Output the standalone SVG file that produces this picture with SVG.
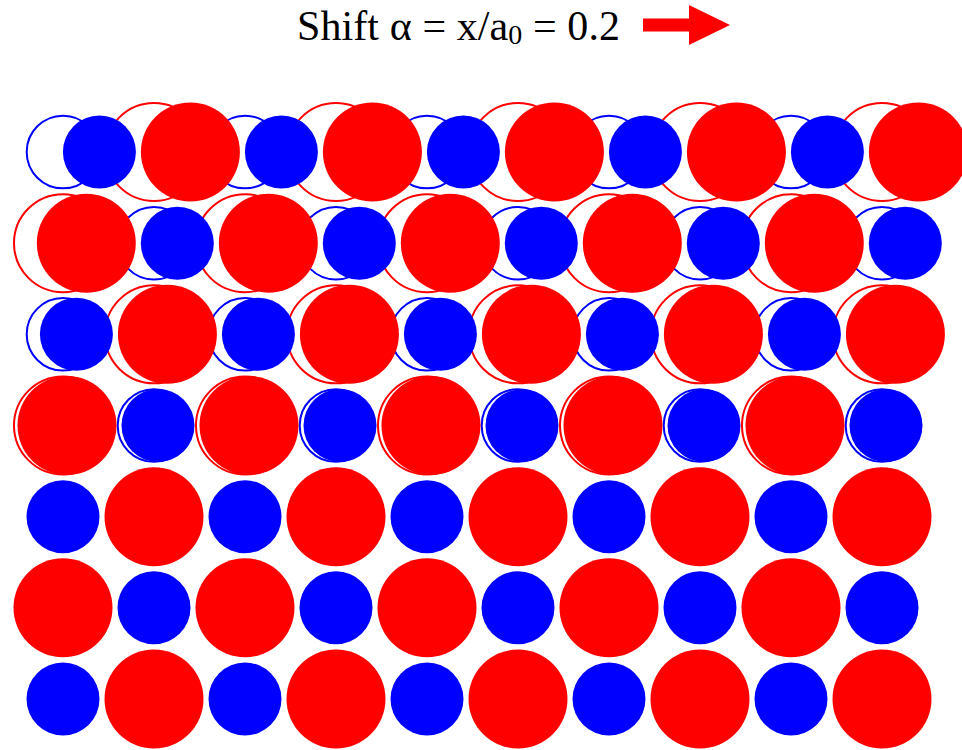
<svg xmlns="http://www.w3.org/2000/svg" width="962" height="750" viewBox="0 0 962 750">
<style>
.title{font-family:"Liberation Serif","Times New Roman",serif;font-size:42px;fill:#000}
.rf{fill:#ff0000}
.bf{fill:#0000ff}
.ro{fill:none;stroke:#ff0000;stroke-width:2}
.bo{fill:none;stroke:#0000ff;stroke-width:2}
</style>
<rect x="0" y="0" width="962" height="750" fill="#ffffff"/>
<g id="title">
<text class="title" x="297" y="40" textLength="323" lengthAdjust="spacing">Shift α = x/a<tspan font-size="28" dy="4">0</tspan><tspan dy="-4"> = 0.2</tspan></text>
<polygon points="643,18.5 689,18.5 689,5 730,25 689,45 689,31.5 643,31.5" fill="#ff0000"/>
</g>
<g id="original-positions">
<circle class="bo" cx="63" cy="152" r="36.3"/><circle class="ro" cx="154" cy="152" r="49"/><circle class="bo" cx="245" cy="152" r="36.3"/><circle class="ro" cx="336" cy="152" r="49"/><circle class="bo" cx="427" cy="152" r="36.3"/><circle class="ro" cx="518" cy="152" r="49"/><circle class="bo" cx="609" cy="152" r="36.3"/><circle class="ro" cx="700" cy="152" r="49"/><circle class="bo" cx="791" cy="152" r="36.3"/><circle class="ro" cx="882" cy="152" r="49"/>
<circle class="ro" cx="63" cy="243.2" r="49"/><circle class="bo" cx="154" cy="243.2" r="36.3"/><circle class="ro" cx="245" cy="243.2" r="49"/><circle class="bo" cx="336" cy="243.2" r="36.3"/><circle class="ro" cx="427" cy="243.2" r="49"/><circle class="bo" cx="518" cy="243.2" r="36.3"/><circle class="ro" cx="609" cy="243.2" r="49"/><circle class="bo" cx="700" cy="243.2" r="36.3"/><circle class="ro" cx="791" cy="243.2" r="49"/><circle class="bo" cx="882" cy="243.2" r="36.3"/>
<circle class="bo" cx="63" cy="334.3" r="36.3"/><circle class="ro" cx="154" cy="334.3" r="49"/><circle class="bo" cx="245" cy="334.3" r="36.3"/><circle class="ro" cx="336" cy="334.3" r="49"/><circle class="bo" cx="427" cy="334.3" r="36.3"/><circle class="ro" cx="518" cy="334.3" r="49"/><circle class="bo" cx="609" cy="334.3" r="36.3"/><circle class="ro" cx="700" cy="334.3" r="49"/><circle class="bo" cx="791" cy="334.3" r="36.3"/><circle class="ro" cx="882" cy="334.3" r="49"/>
<circle class="ro" cx="63" cy="425.5" r="49"/><circle class="bo" cx="154" cy="425.5" r="36.3"/><circle class="ro" cx="245" cy="425.5" r="49"/><circle class="bo" cx="336" cy="425.5" r="36.3"/><circle class="ro" cx="427" cy="425.5" r="49"/><circle class="bo" cx="518" cy="425.5" r="36.3"/><circle class="ro" cx="609" cy="425.5" r="49"/><circle class="bo" cx="700" cy="425.5" r="36.3"/><circle class="ro" cx="791" cy="425.5" r="49"/><circle class="bo" cx="882" cy="425.5" r="36.3"/>
</g>
<g id="ions">
<g id="row1">
<circle class="bf" cx="99.4" cy="152" r="36.5"/><circle class="rf" cx="190.4" cy="152" r="49.5"/><circle class="bf" cx="281.4" cy="152" r="36.5"/><circle class="rf" cx="372.4" cy="152" r="49.5"/><circle class="bf" cx="463.4" cy="152" r="36.5"/><circle class="rf" cx="554.4" cy="152" r="49.5"/><circle class="bf" cx="645.4" cy="152" r="36.5"/><circle class="rf" cx="736.4" cy="152" r="49.5"/><circle class="bf" cx="827.4" cy="152" r="36.5"/><circle class="rf" cx="918.4" cy="152" r="49.5"/>
</g>
<g id="row2">
<circle class="rf" cx="86.3" cy="243.2" r="49.5"/><circle class="bf" cx="177.3" cy="243.2" r="36.5"/><circle class="rf" cx="268.3" cy="243.2" r="49.5"/><circle class="bf" cx="359.3" cy="243.2" r="36.5"/><circle class="rf" cx="450.3" cy="243.2" r="49.5"/><circle class="bf" cx="541.3" cy="243.2" r="36.5"/><circle class="rf" cx="632.3" cy="243.2" r="49.5"/><circle class="bf" cx="723.3" cy="243.2" r="36.5"/><circle class="rf" cx="814.3" cy="243.2" r="49.5"/><circle class="bf" cx="905.3" cy="243.2" r="36.5"/>
</g>
<g id="row3">
<circle class="bf" cx="76.4" cy="334.3" r="36.5"/><circle class="rf" cx="167.4" cy="334.3" r="49.5"/><circle class="bf" cx="258.4" cy="334.3" r="36.5"/><circle class="rf" cx="349.4" cy="334.3" r="49.5"/><circle class="bf" cx="440.4" cy="334.3" r="36.5"/><circle class="rf" cx="531.4" cy="334.3" r="49.5"/><circle class="bf" cx="622.4" cy="334.3" r="36.5"/><circle class="rf" cx="713.4" cy="334.3" r="49.5"/><circle class="bf" cx="804.4" cy="334.3" r="36.5"/><circle class="rf" cx="895.4" cy="334.3" r="49.5"/>
</g>
<g id="row4">
<circle class="rf" cx="67" cy="425.5" r="49.5"/><circle class="bf" cx="158" cy="425.5" r="36.5"/><circle class="rf" cx="249" cy="425.5" r="49.5"/><circle class="bf" cx="340" cy="425.5" r="36.5"/><circle class="rf" cx="431" cy="425.5" r="49.5"/><circle class="bf" cx="522" cy="425.5" r="36.5"/><circle class="rf" cx="613" cy="425.5" r="49.5"/><circle class="bf" cx="704" cy="425.5" r="36.5"/><circle class="rf" cx="795" cy="425.5" r="49.5"/><circle class="bf" cx="886" cy="425.5" r="36.5"/>
</g>
<g id="row5">
<circle class="bf" cx="63" cy="516.7" r="36.5"/><circle class="rf" cx="154" cy="516.7" r="49.5"/><circle class="bf" cx="245" cy="516.7" r="36.5"/><circle class="rf" cx="336" cy="516.7" r="49.5"/><circle class="bf" cx="427" cy="516.7" r="36.5"/><circle class="rf" cx="518" cy="516.7" r="49.5"/><circle class="bf" cx="609" cy="516.7" r="36.5"/><circle class="rf" cx="700" cy="516.7" r="49.5"/><circle class="bf" cx="791" cy="516.7" r="36.5"/><circle class="rf" cx="882" cy="516.7" r="49.5"/>
</g>
<g id="row6">
<circle class="rf" cx="63" cy="607.8" r="49.5"/><circle class="bf" cx="154" cy="607.8" r="36.5"/><circle class="rf" cx="245" cy="607.8" r="49.5"/><circle class="bf" cx="336" cy="607.8" r="36.5"/><circle class="rf" cx="427" cy="607.8" r="49.5"/><circle class="bf" cx="518" cy="607.8" r="36.5"/><circle class="rf" cx="609" cy="607.8" r="49.5"/><circle class="bf" cx="700" cy="607.8" r="36.5"/><circle class="rf" cx="791" cy="607.8" r="49.5"/><circle class="bf" cx="882" cy="607.8" r="36.5"/>
</g>
<g id="row7">
<circle class="bf" cx="63" cy="699" r="36.5"/><circle class="rf" cx="154" cy="699" r="49.5"/><circle class="bf" cx="245" cy="699" r="36.5"/><circle class="rf" cx="336" cy="699" r="49.5"/><circle class="bf" cx="427" cy="699" r="36.5"/><circle class="rf" cx="518" cy="699" r="49.5"/><circle class="bf" cx="609" cy="699" r="36.5"/><circle class="rf" cx="700" cy="699" r="49.5"/><circle class="bf" cx="791" cy="699" r="36.5"/><circle class="rf" cx="882" cy="699" r="49.5"/>
</g>
</g>
</svg>
